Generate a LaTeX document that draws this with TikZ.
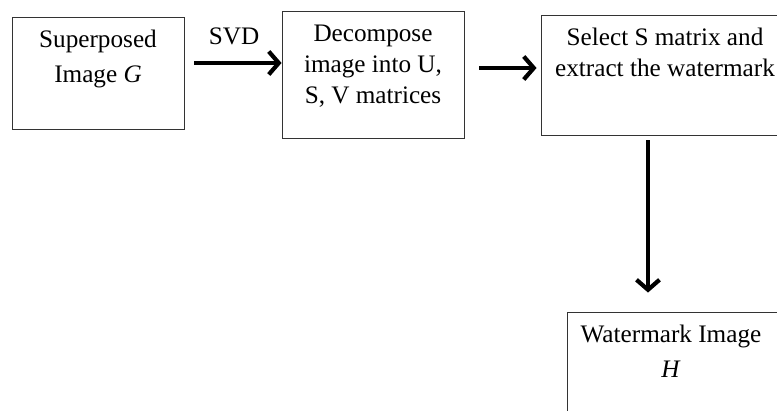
\documentclass[tikz,border=0pt]{standalone}
\usepackage{fontspec}
\setmainfont{Liberation Serif}
\usepackage{tikz}
\usetikzlibrary{arrows.meta}
\usetikzlibrary{positioning}
\tikzset{>=latex}
\tikzstyle{blk} = [draw = black!80, line width = 0.9pt, inner sep = 0, rectangle]
\tikzstyle{txt} = [draw=none, inner sep = 0, anchor = north, align = center, font = \fontsize{25.2}{31}\selectfont]
\tikzstyle{flow} = [-{Straight Barb[length=10pt, width=23pt]}, line width = 4.2pt, line join = round]

\begin{document}
\begin{tikzpicture}[x=1pt, y=1pt]
\useasboundingbox (0, 0) rectangle (777, 410);
\clip (0, 0) rectangle (777, 410);
% boxes
\node [blk, minimum width = 172, minimum height = 112] (G) at (98, 337) {};
\node [blk, minimum width = 182, minimum height = 127] (D) at (373, 335.5) {};
\node [blk, minimum width = 248, minimum height = 120] (S) at (665, 335) {};
\node [blk, minimum width = 212, minimum height = 120] (H) at (673, 38) {};
% texts
\node [txt] (Gt) at ([yshift=-13]G.north) {Superposed\\[4pt]Image \textit{G}};
\node [txt] (Dt) at ([yshift=-14]D.north) {Decompose\\image into U,\\S, V matrices};
\node [txt] (St) at ([yshift=-13]S.north) {Select S matrix and\\extract the watermark};
\node [txt] (Ht) at ([xshift=-2, yshift=-13]H.north) {Watermark Image\\[4pt]\textit{H}};
\node [draw=none, inner sep = 0, anchor = base, font = \fontsize{25.2}{31}\selectfont] (svd) at (234, 365) {SVD};
% arrows
\draw [flow] ([xshift=10, yshift=10]G.east) to ([yshift=11.5]D.west);
\draw [flow] ([xshift=15, yshift=6.5]D.east) to ([xshift=-4, yshift=7]S.west);
\draw [flow] ([xshift=-17, yshift=-5]S.south) to ([xshift=-25, yshift=19]H.north);
\end{tikzpicture}
\end{document}
